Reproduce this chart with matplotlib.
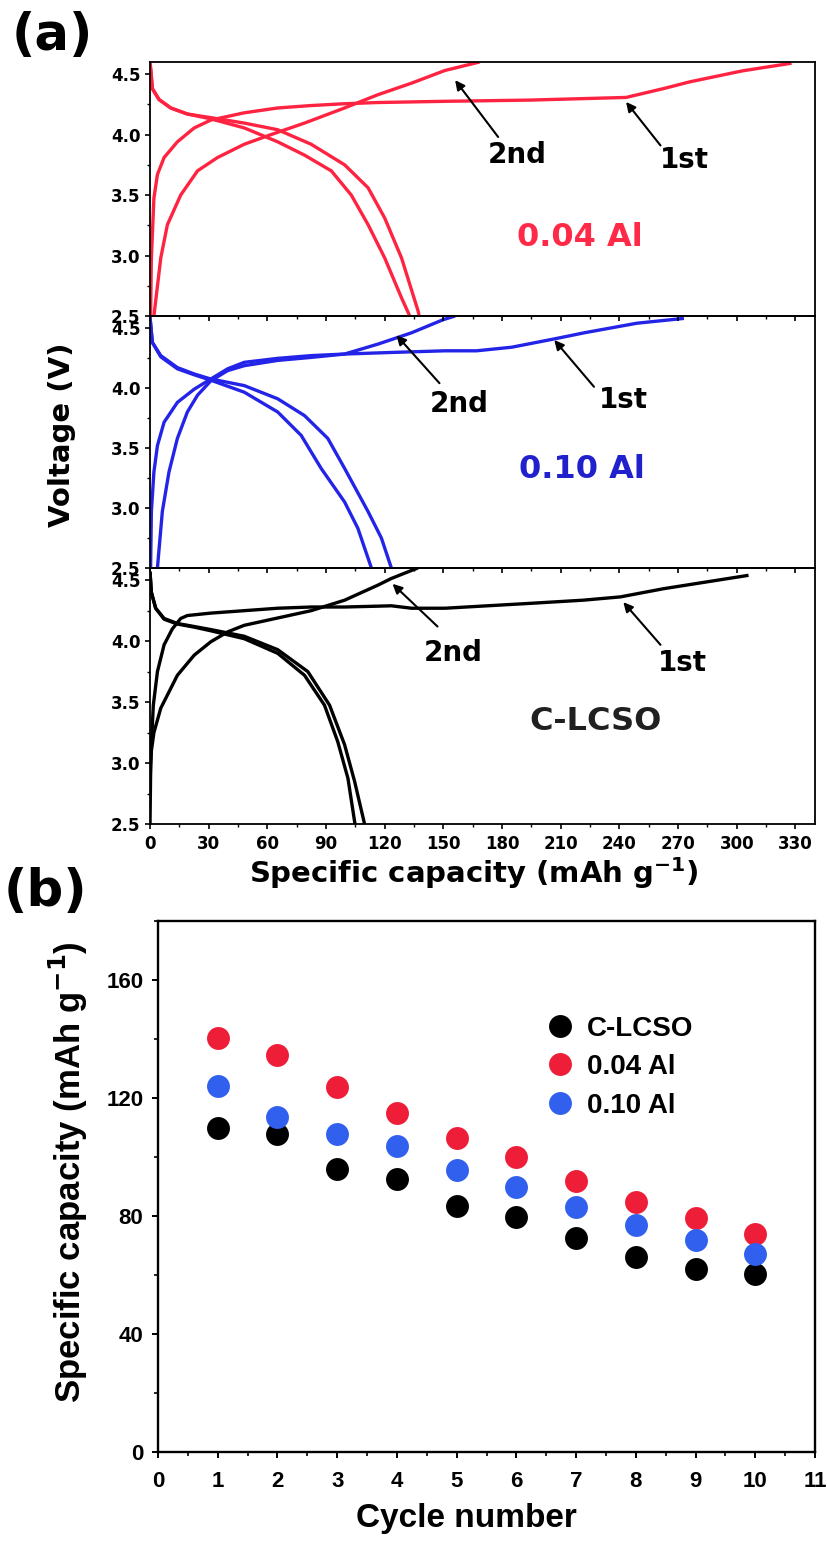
import matplotlib
matplotlib.use("Agg")
import matplotlib.pyplot as plt
from matplotlib.ticker import MultipleLocator

# ---- panel (a): charge/discharge profiles (capacity mAh/g, voltage V) ----
al04_d1_cap = [0, 0.5, 1.2, 4.6, 10.6, 19.1, 31.1, 48.2, 65.3, 82.4, 99.5, 111.5, 120, 128.6, 137.1, 137.6]
al04_d1_v = [4.59, 4.52, 4.38, 4.29, 4.22, 4.17, 4.14, 4.095, 4.04, 3.92, 3.75, 3.56, 3.31, 2.98, 2.54, 2.5]
al04_d2_cap = [0, 0.5, 1.2, 4.6, 10.6, 19.1, 31.1, 48.2, 65.3, 79, 92.7, 102.9, 111.5, 120, 128.6, 132.8]
al04_d2_v = [4.59, 4.52, 4.38, 4.29, 4.22, 4.17, 4.13, 4.055, 3.94, 3.83, 3.70, 3.50, 3.255, 2.98, 2.65, 2.5]
al04_c1_cap = [0.3, 0.7, 2, 3.8, 7.2, 14, 22.6, 31.1, 48.2, 65.3, 82.4, 99.5, 116.6, 150.8, 194, 243.4, 262.5, 276, 303, 328]
al04_c1_v = [2.5, 2.98, 3.475, 3.67, 3.81, 3.94, 4.055, 4.12, 4.18, 4.22, 4.24, 4.255, 4.265, 4.275, 4.285, 4.307, 4.38, 4.436, 4.527, 4.59]
al04_c2_cap = [2, 5.5, 8.9, 15.7, 24.3, 34.5, 48.2, 61.9, 79, 99.5, 116.6, 133.7, 150.8, 168.5]
al04_c2_v = [2.5, 2.98, 3.255, 3.50, 3.70, 3.81, 3.92, 4.00, 4.095, 4.22, 4.33, 4.425, 4.53, 4.6]

al10_d1_cap = [0, 1.2, 5.5, 14, 22.6, 31.1, 48.2, 65.3, 79, 90.9, 99.5, 111.5, 118.3, 123.4]
al10_d1_v = [4.59, 4.38, 4.27, 4.17, 4.117, 4.075, 4.02, 3.91, 3.77, 3.58, 3.33, 2.97, 2.75, 2.5]
al10_d2_cap = [0, 1.2, 5.5, 14, 22.6, 31.1, 48.2, 65.3, 77.3, 87.5, 99.5, 106.3, 113.2]
al10_d2_v = [4.59, 4.38, 4.26, 4.16, 4.11, 4.065, 3.965, 3.80, 3.605, 3.33, 3.05, 2.83, 2.5]
al10_c1_cap = [0.3, 0.7, 2, 3.8, 7.2, 14, 22.6, 31.1, 39.7, 48.2, 65.3, 82.4, 99.5, 125, 150.8, 167, 185, 207, 222, 249, 273]
al10_c1_v = [2.5, 2.97, 3.30, 3.52, 3.715, 3.88, 3.99, 4.075, 4.16, 4.214, 4.247, 4.27, 4.283, 4.297, 4.31, 4.31, 4.34, 4.41, 4.46, 4.54, 4.58]
al10_c2_cap = [3.8, 6.3, 9.7, 14, 19.1, 24.3, 31.1, 39.7, 48.2, 65.3, 82.4, 99.5, 116.6, 133.7, 150, 156]
al10_c2_v = [2.5, 2.97, 3.30, 3.58, 3.80, 3.94, 4.06, 4.145, 4.186, 4.23, 4.255, 4.283, 4.366, 4.46, 4.57, 4.6]

lcso_d1_cap = [0, 0.7, 2.9, 7.2, 14, 22.6, 31.1, 48.2, 65.3, 80.7, 91.8, 99.5, 104.6, 109.7]
lcso_d1_v = [4.57, 4.40, 4.27, 4.186, 4.145, 4.12, 4.095, 4.04, 3.93, 3.75, 3.475, 3.15, 2.85, 2.5]
lcso_d2_cap = [0, 0.7, 2.9, 7.2, 14, 22.6, 31.1, 48.2, 65.3, 79, 89.2, 96, 101.2, 104.8]
lcso_d2_v = [4.57, 4.40, 4.27, 4.18, 4.14, 4.115, 4.085, 4.02, 3.90, 3.72, 3.475, 3.175, 2.875, 2.5]
lcso_c1_cap = [0.2, 0.7, 1.7, 3.8, 7.2, 11.4, 15.7, 19.1, 31.1, 48.2, 65.3, 82.4, 99.5, 116.6, 123.4, 133.7, 150.8, 194.4, 221.5, 240.5, 262.5, 306]
lcso_c1_v = [3.0, 3.15, 3.475, 3.75, 3.97, 4.10, 4.186, 4.21, 4.23, 4.25, 4.27, 4.28, 4.28, 4.287, 4.29, 4.27, 4.27, 4.31, 4.336, 4.363, 4.43, 4.54]
lcso_c2_cap = [0, 0.3, 0.7, 2, 5.5, 14, 22.6, 31.1, 39.7, 48.2, 65.3, 82.4, 99.5, 116.6, 123.4, 133.7, 137]
lcso_c2_v = [2.5, 2.9, 3.1, 3.25, 3.45, 3.72, 3.885, 3.995, 4.076, 4.13, 4.19, 4.25, 4.336, 4.46, 4.514, 4.58, 4.6]

# ---- panel (b): capacity vs cycle ----
cycles = [1, 2, 3, 4, 5, 6, 7, 8, 9, 10]
cap_lcso = [110.0, 107.7, 95.8, 92.5, 83.5, 79.5, 72.7, 66.0, 61.9, 60.5]
cap_al04 = [140.2, 134.7, 123.8, 114.9, 106.4, 100.0, 92.0, 84.9, 79.4, 73.9]
cap_al10 = [124.2, 113.5, 107.7, 103.8, 95.6, 89.8, 82.9, 77.1, 72.0, 67.1]

RED = "#ff2342"
BLUE = "#2424e8"

fig = plt.figure(figsize=(8.27, 15.45), dpi=100)
FW, FH = 827.0, 1545.0


def ax_rect(left, top, right, bottom):
    return [left / FW, 1 - bottom / FH, (right - left) / FW, (bottom - top) / FH]


panels = [
    dict(top=62, bottom=316, color=RED, label="0.04 Al", lab_color="#ff2a48", lab_pos=(220, 3.15),
         curves=[(al04_d1_cap, al04_d1_v), (al04_d2_cap, al04_d2_v), (al04_c1_cap, al04_c1_v), (al04_c2_cap, al04_c2_v)],
         a2=((156, 4.45), (178, 3.98), (188, 3.83)), a1=((243.4, 4.27), (261, 3.91), (273, 3.79))),
    dict(top=316, bottom=568, color=BLUE, label="0.10 Al", lab_color="#2020cc", lab_pos=(221, 3.32),
         curves=[(al10_d1_cap, al10_d1_v), (al10_d2_cap, al10_d2_v), (al10_c1_cap, al10_c1_v), (al10_c2_cap, al10_c2_v)],
         a2=((126, 4.44), (148, 4.04), (158, 3.87)), a1=((206.7, 4.40), (227, 4.01), (242, 3.90))),
    dict(top=568, bottom=824, color="black", label="C-LCSO", lab_color="#202020", lab_pos=(228, 3.34),
         curves=[(lcso_d1_cap, lcso_d1_v), (lcso_d2_cap, lcso_d2_v), (lcso_c1_cap, lcso_c1_v), (lcso_c2_cap, lcso_c2_v)],
         a2=((124, 4.47), (147, 4.12), (155, 3.90)), a1=((242, 4.32), (261, 3.97), (272, 3.82))),
]

bold = dict(fontweight="bold", family="DejaVu Sans")
axes_a = []
for i, p in enumerate(panels):
    ax = fig.add_axes(ax_rect(150, p["top"], 815, p["bottom"]))
    axes_a.append(ax)
    for xs, ys in p["curves"]:
        ax.plot(xs, ys, color=p["color"], lw=2.4, solid_capstyle="butt", solid_joinstyle="round")
    ax.set_xlim(0, 340)
    ax.set_ylim(2.5, 4.6)
    ax.set_yticks([2.5, 3.0, 3.5, 4.0, 4.5])
    ax.yaxis.set_minor_locator(MultipleLocator(0.25))
    ax.set_xticks(range(0, 331, 30))
    ax.xaxis.set_minor_locator(MultipleLocator(15))
    ax.tick_params(which="major", direction="out", length=3.8, width=1.2, pad=3, labelsize=12)
    ax.tick_params(which="minor", direction="out", length=2.2, width=1.0)
    ax.tick_params(axis="x", pad=4)
    for lab in ax.get_xticklabels() + ax.get_yticklabels():
        lab.set_fontweight("bold")
    if i < 2:
        ax.tick_params(axis="x", labelbottom=False)
    for s in ax.spines.values():
        s.set_linewidth(1.3)
    ax.set_zorder(3 - i)
    ax.patch.set_alpha(0)
    ax.text(*p["lab_pos"], p["label"], color=p["lab_color"], fontsize=23, ha="center", va="center", **bold)
    for tip, tail, txt, name in [(p["a2"][0], p["a2"][1], p["a2"][2], "2nd"), (p["a1"][0], p["a1"][1], p["a1"][2], "1st")]:
        ax.annotate("", xy=tip, xytext=tail,
                    arrowprops=dict(arrowstyle="-|>", color="black", lw=1.5, mutation_scale=14, shrinkA=0, shrinkB=0))
        ax.text(txt[0], txt[1], name, fontsize=20, ha="center", va="center", **bold)

fig.text(474 / FW, 1 - 873 / FH, "Specific capacity (mAh g$^{\\mathbf{-1}}$)", fontsize=21, ha="center", va="center", **bold)
fig.text(62 / FW, 1 - 435 / FH, "Voltage (V)", fontsize=21, rotation=90, ha="center", va="center", **bold)
fig.text(52 / FW, 1 - 36 / FH, "(a)", fontsize=37, ha="center", va="center", **bold)
fig.text(45 / FW, 1 - 892 / FH, "(b)", fontsize=37, ha="center", va="center", **bold)

# ---- panel (b) ----
arial = dict(fontweight="bold", family="Liberation Sans")
axb = fig.add_axes(ax_rect(158, 921, 815, 1452))
axb.plot(cycles, cap_lcso, "o", color="black", ms=16.5, mec="none", label="C-LCSO")
axb.plot(cycles, cap_al04, "o", color="#ee1d38", ms=16.5, mec="none", label="0.04 Al")
axb.plot(cycles, cap_al10, "o", color="#3160ee", ms=16.5, mec="none", label="0.10 Al")
axb.set_xlim(0, 11)
axb.set_ylim(0, 180)
axb.set_xticks(range(0, 12))
axb.xaxis.set_minor_locator(MultipleLocator(0.5))
axb.set_yticks([0, 40, 80, 120, 160])
axb.yaxis.set_minor_locator(MultipleLocator(20))
axb.tick_params(which="major", direction="out", length=4.5, width=1.4, labelsize=16)
axb.tick_params(which="minor", direction="out", length=3, width=1.2)
axb.tick_params(axis="x", pad=9)
axb.tick_params(axis="y", pad=6)
for lab in axb.get_xticklabels() + axb.get_yticklabels():
    lab.set_fontweight("bold")
    lab.set_family("Liberation Sans")
for s in axb.spines.values():
    s.set_linewidth(1.7)
leg = axb.legend(loc="upper left", bbox_to_anchor=(0.553, 0.869), frameon=False, numpoints=1,
                 handlelength=1.0, handletextpad=0.45, labelspacing=0.45,
                 prop=dict(family="Liberation Sans", weight="bold", size=20))
fig.text(466 / FW, 1 - 1519 / FH, "Cycle number", fontsize=24, ha="center", va="center", **arial)
fig.text(68 / FW, 1 - 1172 / FH, "Specific capacity (mAh g$^{\\mathbf{-1}}$)", fontsize=25, rotation=90,
         ha="center", va="center", **arial)

fig.savefig("out.png", dpi=100)
